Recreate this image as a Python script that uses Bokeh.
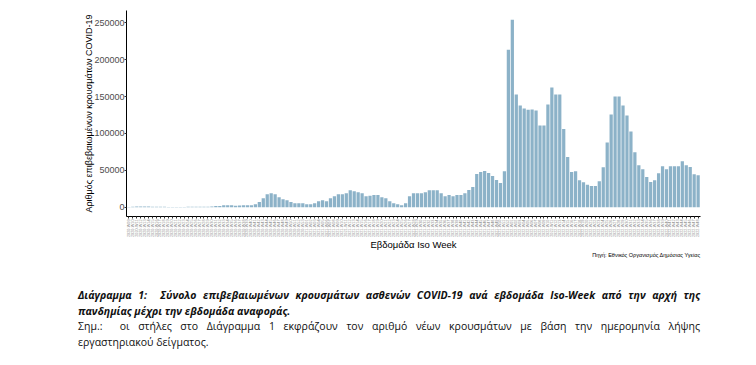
import math
from bokeh.plotting import figure
from bokeh.models import Range1d, FixedTicker, BasicTickFormatter, Title, Div, ColumnDataSource
from bokeh.layouts import column
from bokeh.embed import file_html
from bokeh.resources import INLINE

# ISO weeks shown: 2020-W09 .. 2020-W53, 2021-W01 .. 2021-W52, 2022-W01 .. 2022-W48
week_spans = [(2020, 9, 53), (2021, 1, 52), (2022, 1, 48)]
week_labels = [f"{y}-W{w:02d}" for (y, a, b) in week_spans for w in range(a, b + 1)]

cases_2020 = [200, 400, 700, 800, 800, 700, 600, 500, 400, 400, 300, 100, 80, 100, 300,
              400, 400, 400, 400, 500, 600, 900, 1500, 1500, 2600, 2700, 2600, 2000, 2300,
              2400, 2500, 2700, 4000, 6800, 12200, 17600, 19000, 17600, 13500, 10800, 9500,
              6800, 5400, 5400, 5400]
cases_2021 = [4000, 4000, 5400, 8100, 9500, 8100, 12200, 14900, 17600, 17600, 19000, 23000,
              21700, 20300, 19000, 14900, 15600, 16300, 16300, 13500, 12200, 8100, 5400, 4000,
              2700, 5400, 14900, 19000, 19000, 19000, 20300, 23000, 23000, 23000, 19000, 14900,
              16300, 14900, 16300, 16300, 19000, 23300, 27300, 45000, 47700, 49000, 46300,
              42200, 36700, 32600, 48800, 213500]
cases_2022 = [254000, 152700, 137800, 133800, 132000, 132400, 131100, 110800, 110800, 139200,
              162200, 152700, 152700, 105900, 68000, 47700, 48600, 36500, 33800, 30200, 28800,
              28800, 35100, 54000, 87800, 125700, 150000, 150000, 137800, 124300, 102700, 74300,
              56800, 51400, 41000, 34200, 36500, 45900, 55400, 51400, 55400, 55400, 55400, 62200,
              56800, 54500, 44600, 43200]
cases = cases_2020 + cases_2021 + cases_2022

y_ticks = [0, 50000, 100000, 150000, 200000, 250000]

y_title = "Αριθμός επιβεβαιωμένων κρουσμάτων COVID-19"
x_title = "Εβδομάδα Iso Week"
source_note = "Πηγή: Εθνικός Οργανισμός Δημόσιας Υγείας"
cap_line1 = "Διάγραμμα 1:&nbsp; Σύνολο επιβεβαιωμένων κρουσμάτων ασθενών COVID-19 ανά εβδομάδα Iso-Week από την αρχή της"
cap_line2 = "πανδημίας μέχρι την εβδομάδα αναφοράς."
cap_line3 = "Σημ.:&nbsp; οι στήλες στο Διάγραμμα 1 εκφράζουν τον αριθμό νέων κρουσμάτων με βάση την ημερομηνία λήψης"
cap_line4 = "εργαστηριακού δείγματος."

n = len(cases)
src = ColumnDataSource(dict(x=list(range(n)), top=cases, label=week_labels[:n]))

FONT = "Liberation Sans"
p = figure(width=748, height=262, output_backend="svg", toolbar_location=None,
           x_range=Range1d(-0.6, n - 0.4), y_range=Range1d(-12700, 266700),
           min_border_left=126, min_border_right=48, min_border_top=10, min_border_bottom=46)
p.vbar(x="x", top="top", bottom=0, width=0.82, fill_color="#8cb2c8", line_color=None, source=src)

p.xgrid.visible = False
p.ygrid.visible = False
p.outline_line_color = None

xa = p.xaxis[0]
xa.ticker = FixedTicker(ticks=list(range(n)))
xa.major_label_overrides = {i: week_labels[i] for i in range(n)}
xa.major_label_orientation = math.pi / 2
xa.major_label_text_font_size = "3.8px"
xa.major_label_text_color = "#8c8c8c"
xa.major_label_text_font = FONT
xa.major_label_standoff = 1
xa.major_tick_out = 2
xa.major_tick_in = 0
xa.minor_tick_out = 0
xa.minor_tick_in = 0
xa.major_tick_line_color = "#333333"
xa.axis_line_color = "black"
xa.axis_label = x_title
xa.axis_label_text_font = FONT
xa.axis_label_text_font_size = "9.5px"
xa.axis_label_text_font_style = "normal"
xa.axis_label_text_color = "black"
xa.axis_label_standoff = -1

ya = p.yaxis[0]
ya.ticker = FixedTicker(ticks=y_ticks)
ya.formatter = BasicTickFormatter(use_scientific=False)
ya.major_label_text_font_size = "9px"
ya.major_label_text_color = "#4d4d4d"
ya.major_label_text_font = FONT
ya.major_label_standoff = 0
ya.major_tick_out = 2
ya.major_tick_in = 0
ya.minor_tick_out = 0
ya.minor_tick_in = 0
ya.major_tick_line_color = "#333333"
ya.axis_line_color = "black"
ya.axis_label = y_title
ya.axis_label_text_font = FONT
ya.axis_label_text_font_size = "9px"
ya.axis_label_text_font_style = "normal"
ya.axis_label_text_color = "black"
ya.axis_label_standoff = -3

p.add_layout(Title(text=source_note, align="right", text_font=FONT, text_font_size="5.5px",
                   text_font_style="normal", text_color="black", standoff=-7, offset=0), "below")

cap_font = "'Open Sans', sans-serif"
html = (
    f'<div style="margin-left:73px;padding-top:21px;width:622px;font-family:{cap_font};'
    f'font-size:10.5px;line-height:15.5px;color:#111;">'
    f'<div style="font-weight:bold;font-style:italic;text-align:justify;text-align-last:justify;">{cap_line1}</div>'
    f'<div style="font-weight:bold;font-style:italic;">{cap_line2}</div>'
    f'<div style="text-align:justify;text-align-last:justify;">{cap_line3}</div>'
    f'<div>{cap_line4}</div></div>'
)
caption = Div(text=html, width=748, height=95)

layout = column(p, caption)
open("out.html", "w").write(file_html(layout, INLINE))
